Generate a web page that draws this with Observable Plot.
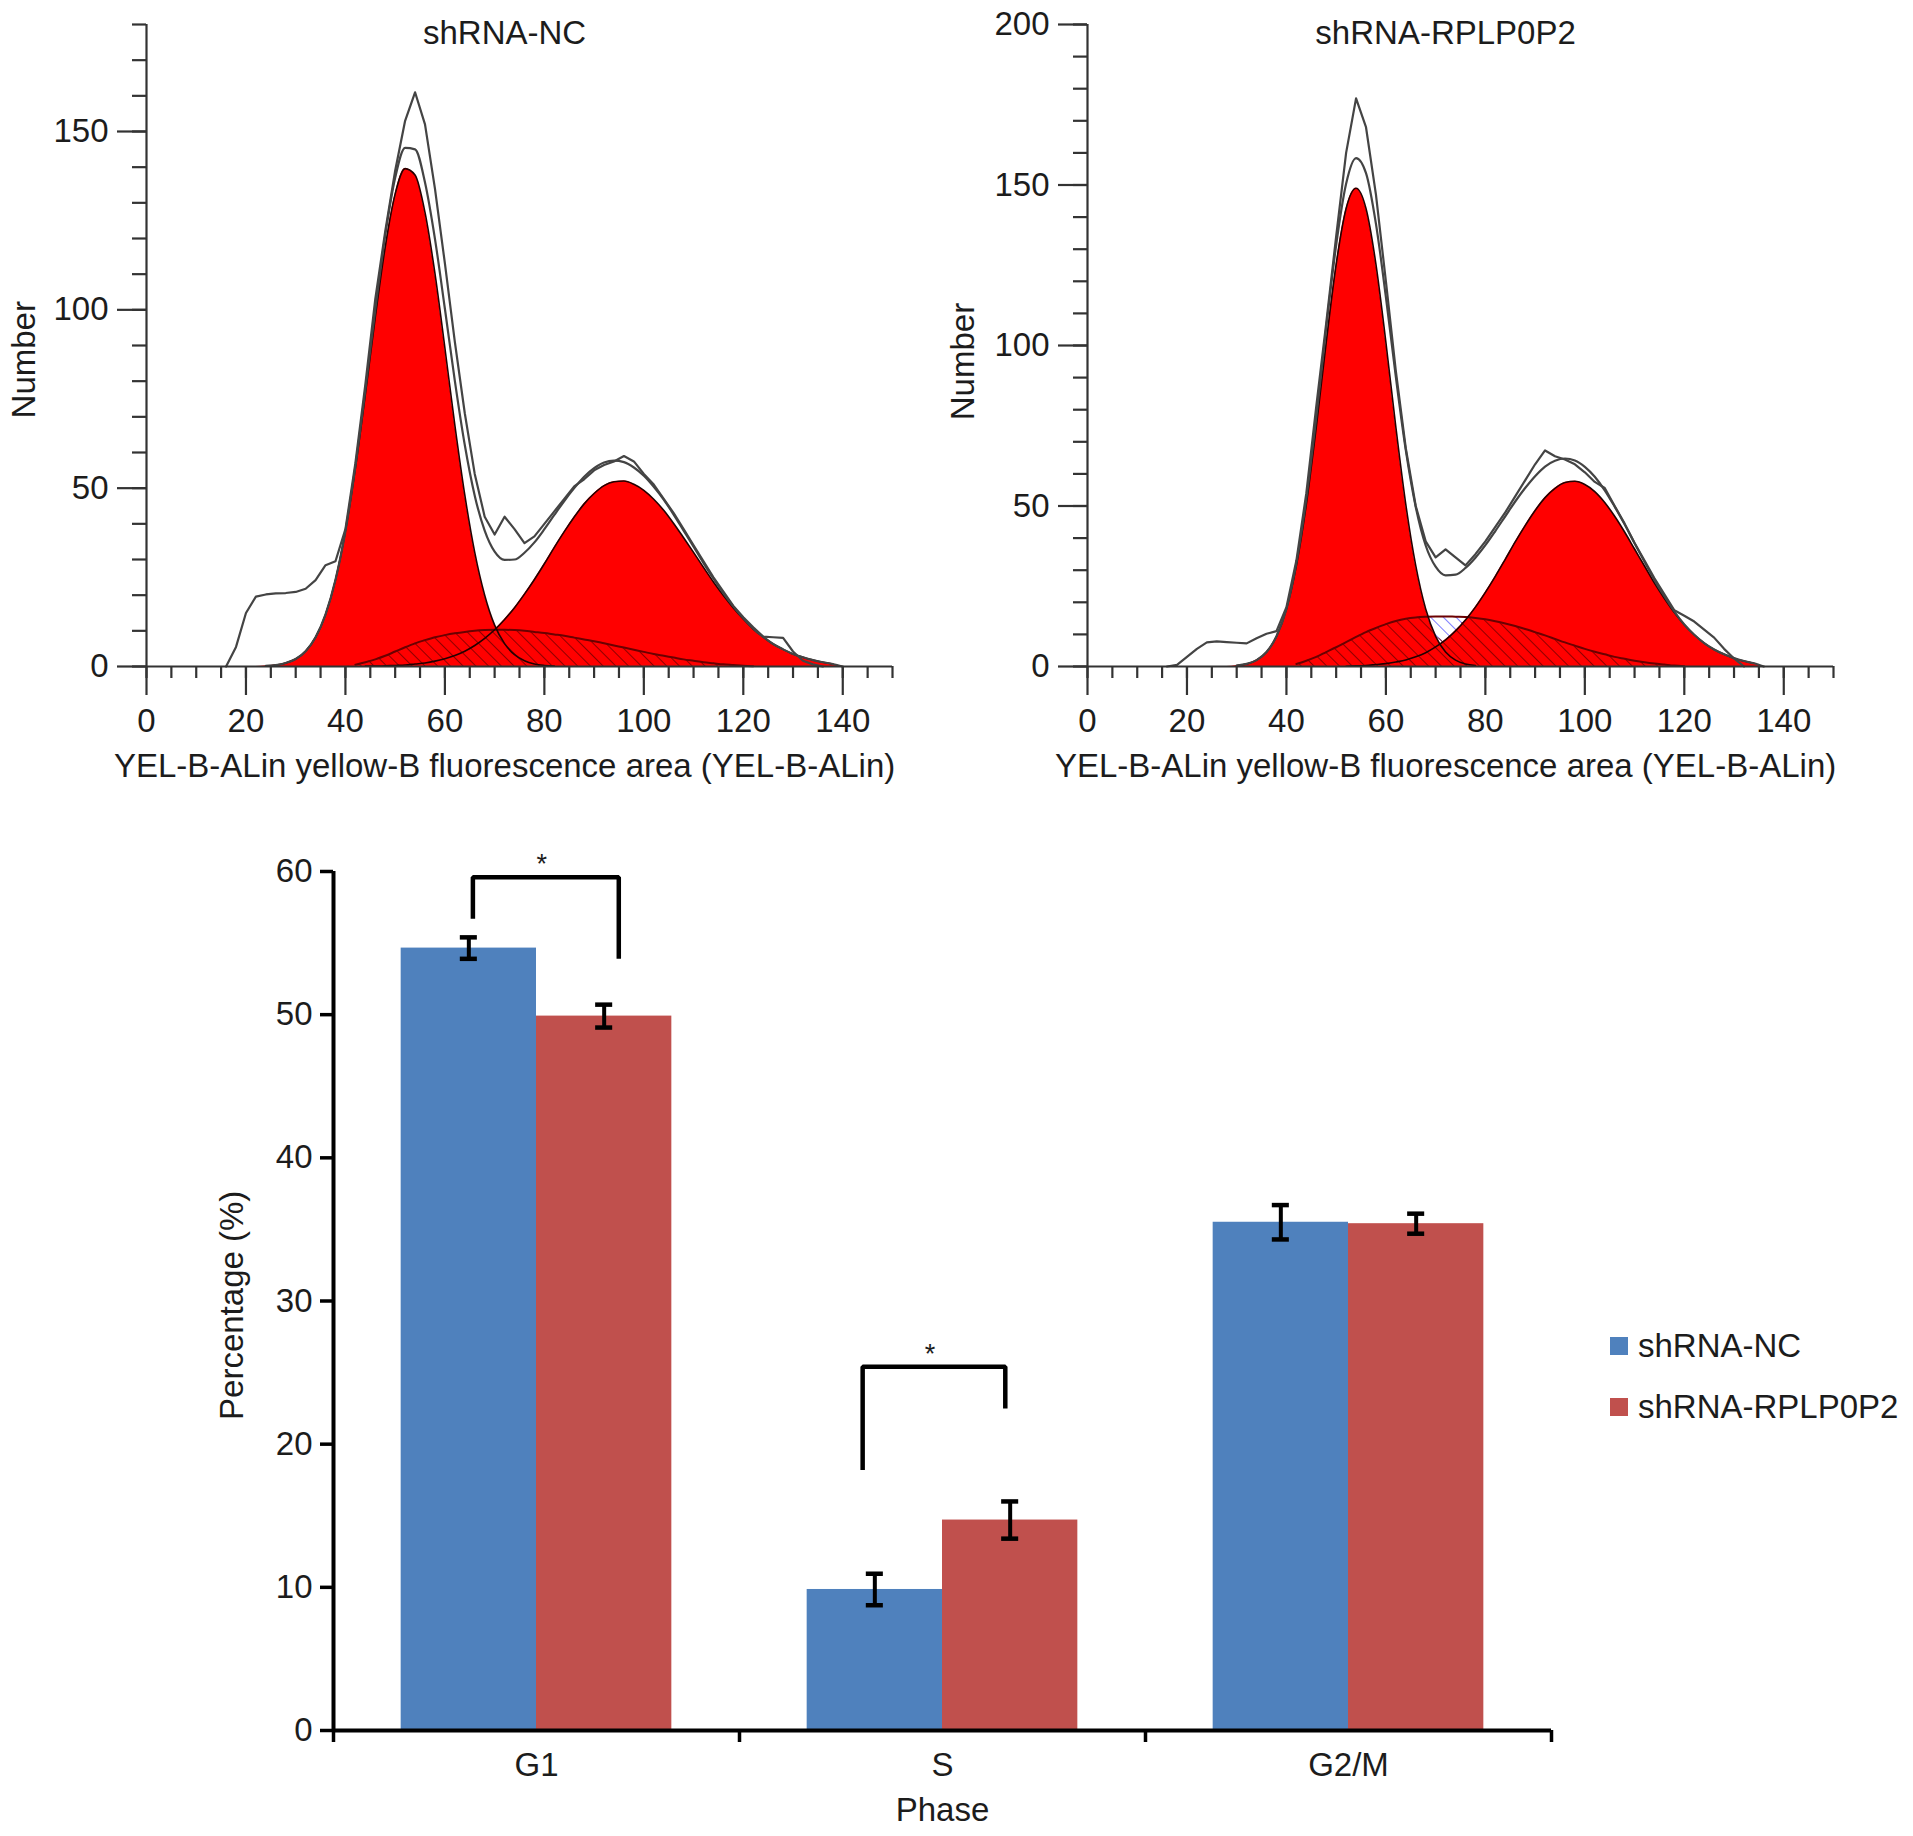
<!DOCTYPE html>
<html>
<head>
<meta charset="utf-8">
<script src="https://cdn.jsdelivr.net/npm/d3@7"></script>
<script src="https://cdn.jsdelivr.net/npm/@observablehq/plot@0.6"></script>
<style>
  body { margin: 0; background: #fff; }
  #fig { position: relative; width: 1913px; height: 1836px; background: #fff;
         font-family: "Liberation Sans", Arial, Helvetica, sans-serif; color: #1c1c1c; }
  #fig svg { position: absolute; overflow: visible; }
  .leyenda { position: absolute; left: 1610px; display: flex; align-items: center;
             height: 40px; font-size: 33px; white-space: nowrap; }
  .leyenda i { display: inline-block; width: 18px; height: 18px; margin-right: 10px; }
</style>
</head>
<body>
<div id="fig"></div>
<script>
const XS = [16, 18, 20, 22,
  24, 26, 28, 30, 32, 34, 36, 38,
  40, 42, 44, 46, 48, 50, 52, 54,
  56, 58, 60, 62, 64, 66, 68, 70,
  72, 74, 76, 78, 80, 82, 84, 86,
  88, 90, 92, 94, 96, 98, 100, 102,
  104, 106, 108, 110, 112, 114, 116, 118,
  120, 122, 124, 126, 128, 130, 132, 134,
  136, 138, 140];

// shRNA-NC
const NC_G1 = [0, 0, 0, 0,
  0.2, 0.4, 1.0, 2.1, 4.3, 8.2, 14.6, 24.3,
  38, 55.6, 76.2, 97.9, 117.6, 132.5, 139.6, 137.8,
  127.3, 110.2, 89.3, 67.7, 48.1, 32, 20, 11.6,
  6.4, 3.3, 1.6, 0.7, 0.3, 0.1, 0, 0,
  0, 0, 0, 0, 0, 0, 0, 0,
  0, 0, 0, 0, 0, 0, 0, 0,
  0, 0, 0, 0, 0, 0, 0, 0,
  0, 0, 0];
const NC_G2 = [0, 0, 0, 0,
  0, 0, 0, 0, 0, 0, 0, 0,
  0, 0, 0.1, 0.1, 0.2, 0.3, 0.4, 0.7,
  1.0, 1.5, 2.2, 3.1, 4.3, 5.9, 7.9, 10.3,
  13.2, 16.5, 20.3, 24.4, 28.8, 33.4, 37.8, 41.9,
  45.6, 48.5, 50.7, 51.8, 52, 51.1, 49.4, 46.9,
  43.8, 40.1, 36.1, 32, 27.8, 23.7, 19.9, 16.4,
  13.3, 10.5, 8.3, 6.3, 4.8, 3.5, 2.6, 1.8,
  1.2, 0.7, 0];
const NC_S = [0, 0, 0, 0,
  0, 0, 0, 0, 0, 0, 0, 0,
  0, 0.5, 1.2, 2, 3, 4.2, 5.4, 6.5,
  7.4, 8.2, 8.8, 9.3, 9.7, 10, 10.2, 10.3,
  10.3, 10.2, 10, 9.7, 9.4, 9, 8.6, 8.1,
  7.6, 7.1, 6.5, 5.9, 5.3, 4.7, 4.1, 3.5,
  3, 2.5, 2, 1.6, 1.2, 0.9, 0.6, 0.4,
  0.2, 0.1, 0, 0, 0, 0, 0, 0,
  0, 0, 0];
const NC_FIT = [null, null, null, null,
  0.2, 0.4, 1.0, 2.1, 4.3, 8.2, 14.6, 24.3,
  38, 56.1, 77.5, 100, 120.8, 137, 145.4, 145,
  135.7, 119.9, 100.3, 80.1, 62.1, 47.9, 38.1, 32.2,
  29.9, 30, 31.9, 34.8, 38.5, 42.5, 46.4, 50,
  53.2, 55.6, 57.2, 57.7, 57.3, 55.8, 53.5, 50.4,
  46.8, 42.6, 38.1, 33.6, 29, 24.6, 20.5, 16.8,
  13.5, 10.6, 8.3, 6.3, 4.8, 3.5, 2.6, 1.8,
  1.2, 0.7, 0];
const NC_RAW = [0, 5.5, 15, 19.6,
  20.2, 20.5, 20.6, 20.9, 21.8, 24.2, 28.4, 29.5,
  38.5, 57, 79, 103, 122, 139, 153, 161,
  152, 134, 113, 91, 71, 54, 42, 37,
  42, 38.5, 34.6, 36.5, 40, 43.5, 47, 50.5,
  52.5, 55, 56.5, 57.5, 59, 57.5, 54, 51,
  47, 43, 38.5, 34, 29.5, 25, 21, 17,
  13.8, 11, 8.4, 8.2, 8, 4.2, 1.6, 0.6,
  0, null, null];

// shRNA-RPLP0P2
const RP_G1 = [0, 0, 0, 0,
  0, 0, 0, 0.3, 0.8, 2, 4.5, 9.4,
  17.9, 31.4, 50.5, 74.6, 101, 125.3, 142.7, 149,
  142.7, 125.3, 101, 74.6, 50.5, 31.4, 17.9, 9.4,
  4.5, 2, 0.8, 0.3, 0, 0, 0, 0,
  0, 0, 0, 0, 0, 0, 0, 0,
  0, 0, 0, 0, 0, 0, 0, 0,
  0, 0, 0, 0, 0, 0, 0, 0,
  0, 0, 0];
const RP_G2 = [0, 0, 0, 0,
  0, 0, 0, 0, 0, 0, 0, 0,
  0, 0, 0, 0, 0, 0, 0.1, 0.2,
  0.3, 0.6, 0.9, 1.4, 2, 3, 4.3, 6.1,
  8.3, 11.1, 14.5, 18.5, 23.1, 28.1, 33.4, 38.8,
  43.9, 48.6, 52.6, 55.5, 57.3, 57.7, 56.7, 54.5,
  51.1, 46.8, 41.9, 36.6, 31.3, 26, 21.2, 16.8,
  13, 9.9, 7.3, 5.3, 3.8, 2.6, 1.7, 1,
  0, 0, 0];
const RP_S = [0, 0, 0, 0,
  0, 0, 0, 0, 0, 0, 0, 0,
  0, 0.8, 1.8, 3, 4.5, 6, 7.6, 9.2,
  10.7, 12, 13.2, 14.2, 14.9, 15.3, 15.5, 15.6,
  15.6, 15.5, 15.4, 15.1, 14.7, 14.1, 13.4, 12.6,
  11.7, 10.7, 9.7, 8.6, 7.5, 6.5, 5.5, 4.6,
  3.8, 3, 2.4, 1.8, 1.3, 0.9, 0.6, 0.3,
  0.1, 0, 0, 0, 0, 0, 0, 0,
  0, 0, 0];
const RP_FIT = [null, null, null, null,
  null, null, null, 0.3, 0.8, 2, 4.5, 9.4,
  17.9, 32.2, 52.3, 77.6, 105.5, 131.3, 150.4, 158.4,
  153.7, 137.9, 115.1, 90.2, 67.4, 49.7, 37.7, 31.1,
  28.4, 28.6, 30.7, 33.9, 37.8, 42.2, 46.8, 51.4,
  55.6, 59.3, 62.3, 64.1, 64.8, 64.2, 62.2, 59.1,
  54.9, 49.8, 44.3, 38.4, 32.6, 26.9, 21.8, 17.1,
  13.1, 9.9, 7.3, 5.3, 3.8, 2.6, 1.7, 1,
  0, null, null];
const RP_RAW = [0, 0.5, 3, 5.5,
  7.5, 7.8, 7.6, 7.4, 7.2, 8.8, 10.2, 11,
  18.5, 33, 54, 81, 107, 134, 160, 177,
  168, 147, 120, 92, 68, 50, 39, 34,
  36.5, 34, 31.5, 35, 39, 43.5, 48, 53,
  58, 63, 67.3, 65.5, 64.5, 63, 60.5, 57.5,
  55.6, 50, 44.5, 38.5, 33, 27.5, 22.5, 17.5,
  15.8, 14, 11.5, 9, 5.5, 2.5, 0, null,
  null, null, null];

const HIST_X_MAJOR = [0, 20, 40, 60, 80, 100, 120, 140];
const HIST_X_MINOR = d3.range(0, 151, 5);
const NC_Y_MAJOR = [0, 50, 100, 150];
const RP_Y_MAJOR = [0, 50, 100, 150, 200];
const X_LABEL = "YEL-B-ALin yellow-B fluorescence area (YEL-B-ALin)";

// Porcentaje por fase (media ± error)
const PHASES = ["G1", "S", "G2/M"];
const GROUPS = ["shRNA-NC", "shRNA-RPLP0P2"];
const NC_PCT = [54.65, 9.85, 35.5];
const NC_ERR = [0.75, 1.1, 1.2];
const RP_PCT = [49.9, 14.7, 35.4];
const RP_ERR = [0.8, 1.3, 0.7];
const BAR_Y_TICKS = [0, 10, 20, 30, 40, 50, 60];
const BAR_COLORS = ["#4f81bd", "#c0504d"];

// Corchetes de significacion: fase, altura pata izquierda, techo, pata derecha
const SIG_PHASE = ["G1", "S"];
const SIG_LEFT = [56.7, 18.2];
const SIG_TOP = [59.6, 25.4];
const SIG_RIGHT = [53.9, 22.5];
const SIG_SHIFT_L = [0.01, -0.03];
const SIG_SHIFT_R = [0.036, -0.012];

const FONT = "'Liberation Sans', Arial, Helvetica, sans-serif";
const INK = "#1c1c1c";
const curve = "monotone-x";

function rayado(defs, id, color, ancho) {
  const p = defs.append("pattern")
    .attr("id", id)
    .attr("patternUnits", "userSpaceOnUse")
    .attr("width", 9).attr("height", 9)
    .attr("patternTransform", "rotate(-45)");
  p.append("line")
    .attr("x1", 0).attr("y1", 0).attr("x2", 0).attr("y2", 9)
    .attr("stroke", color).attr("stroke-width", ancho);
}

function histPanel(o) {
  const rows = XS.map((x, i) => ({
    x, g1: o.g1[i], g2: o.g2[i], s: o.s[i], fit: o.fit[i], raw: o.raw[i],
  }));
  const pos = (v) => (v > 0 ? v : null);
  const eje = { stroke: "#333", strokeWidth: 2.2, label: null };
  const svg = Plot.plot({
    width: o.width,
    height: 800,
    marginLeft: o.marginLeft,
    marginRight: o.marginRight,
    marginTop: 24,
    marginBottom: 134,
    style: { background: "transparent", color: INK, fontFamily: FONT, fontSize: "33px", overflow: "visible" },
    x: { domain: [0, 150] },
    y: { domain: [0, o.yMax] },
    marks: [
      Plot.areaY(rows, { x: "x", y: "s", fill: `url(#${o.id}-azul)`, curve }),
      Plot.areaY(rows, { x: "x", y: "g1", fill: "#ff0000", curve }),
      Plot.areaY(rows, { x: "x", y: "g2", fill: "#ff0000", curve }),
      Plot.areaY(rows, { x: "x", y: (d) => Math.min(d.s, Math.max(d.g1, d.g2)), fill: `url(#${o.id}-rojo)`, curve }),
      Plot.lineY(rows, { x: "x", y: (d) => pos(d.s), stroke: "#6b0000", strokeWidth: 2, curve }),
      Plot.lineY(rows, { x: "x", y: (d) => pos(d.g1), stroke: "#240000", strokeWidth: 1.6, curve }),
      Plot.lineY(rows, { x: "x", y: (d) => pos(d.g2), stroke: "#240000", strokeWidth: 1.6, curve }),
      Plot.lineY(rows, { x: "x", y: "fit", stroke: "#444", strokeWidth: 2.2, curve }),
      Plot.lineY(rows, { x: "x", y: "raw", stroke: "#444", strokeWidth: 2.2 }),
      Plot.ruleX([0], { stroke: "#333", strokeWidth: 2.2 }),
      Plot.ruleY([0], { stroke: "#333", strokeWidth: 2.2 }),
      Plot.axisY(o.yMajor, { ...eje, tickSize: 29, tickPadding: 9 }),
      Plot.axisY(d3.range(0, o.yMax + 1, 10), { ...eje, tickSize: 14, tickFormat: () => "" }),
      Plot.axisX(HIST_X_MAJOR, { ...eje, tickSize: 29, tickPadding: 13 }),
      Plot.axisX(HIST_X_MINOR, { ...eje, tickSize: 12, tickFormat: () => "" }),
      Plot.text([o.title], { x: () => 72, frameAnchor: "top", lineAnchor: "middle", dy: 9 }),
      Plot.text([X_LABEL], { x: () => 72, frameAnchor: "bottom", lineAnchor: "middle", dy: 100 }),
      Plot.text(["Number"], { y: () => o.labelY, frameAnchor: "left", rotate: -90, textAnchor: "middle", lineAnchor: "middle", dx: o.labelDx }),
    ],
  });
  const defs = d3.select(svg).insert("defs", ":first-child");
  rayado(defs, `${o.id}-rojo`, "#7a0000", 1.7);
  rayado(defs, `${o.id}-azul`, "#4646ff", 1.4);
  return svg;
}

function barPanel() {
  const rows = PHASES.flatMap((phase, i) => GROUPS.map((group, g) => ({
    phase,
    group,
    centro: i + (g + 1) / 3,
    valor: g ? RP_PCT[i] : NC_PCT[i],
    err: g ? RP_ERR[i] : NC_ERR[i],
  })));
  const corchetes = SIG_PHASE.flatMap((phase, k) => {
    const i = PHASES.indexOf(phase);
    const xl = i + 1 / 3 + SIG_SHIFT_L[k];
    const xr = i + 2 / 3 + SIG_SHIFT_R[k];
    return [
      { k, x: xl, y: SIG_LEFT[k] },
      { k, x: xl, y: SIG_TOP[k] },
      { k, x: xr, y: SIG_TOP[k] },
      { k, x: xr, y: SIG_RIGHT[k] },
    ];
  });
  const estrellas = SIG_PHASE.map((phase, k) => ({
    x: PHASES.indexOf(phase) + 0.5 + (SIG_SHIFT_L[k] + SIG_SHIFT_R[k]) / 2 - 0.01,
    y: SIG_TOP[k],
  }));
  return Plot.plot({
    width: 1913,
    height: 1036,
    marginLeft: 333,
    marginRight: 362,
    marginTop: 71,
    marginBottom: 106,
    style: { background: "transparent", color: INK, fontFamily: FONT, fontSize: "33px", overflow: "visible" },
    x: { domain: [0, 3] },
    y: { domain: [0, 60] },
    color: { domain: GROUPS, range: BAR_COLORS },
    marks: [
      Plot.rect(rows, { x1: (d) => d.centro - 1 / 6, x2: (d) => d.centro + 1 / 6, y1: 0, y2: "valor", fill: "group" }),
      Plot.ruleX(rows, { x: "centro", y1: (d) => d.valor - d.err, y2: (d) => d.valor + d.err, stroke: "#000", strokeWidth: 4 }),
      Plot.ruleY(rows, { y: (d) => d.valor + d.err, x1: (d) => d.centro - 0.021, x2: (d) => d.centro + 0.021, stroke: "#000", strokeWidth: 4.5 }),
      Plot.ruleY(rows, { y: (d) => d.valor - d.err, x1: (d) => d.centro - 0.021, x2: (d) => d.centro + 0.021, stroke: "#000", strokeWidth: 4.5 }),
      Plot.line(corchetes, { x: "x", y: "y", z: "k", stroke: "#000", strokeWidth: 4.5, strokeLinejoin: "miter", strokeLinecap: "butt" }),
      Plot.text(estrellas, { x: "x", y: "y", text: () => "*", fontSize: 27, lineAnchor: "bottom", dy: -4 }),
      Plot.ruleX([0], { stroke: "#000", strokeWidth: 4 }),
      Plot.ruleY([0], { stroke: "#000", strokeWidth: 4 }),
      Plot.axisY(BAR_Y_TICKS, { tickSize: 13, tickPadding: 8, stroke: "#000", strokeWidth: 3.5, label: null }),
      Plot.axisX([0, 1, 2, 3], { tickSize: 12, tickFormat: () => "", stroke: "#000", strokeWidth: 3.5, label: null }),
      Plot.axisX(PHASES.map((p, i) => i + 0.5), { tickSize: 0, tickPadding: 22, tickFormat: (v) => PHASES[Math.floor(v)], label: null }),
      Plot.text(["Percentage (%)"], { y: () => 29.7, frameAnchor: "left", rotate: -90, textAnchor: "middle", lineAnchor: "middle", dx: -101 }),
      Plot.text(["Phase"], { x: () => 1.5, frameAnchor: "bottom", lineAnchor: "middle", dy: 80 }),
    ],
  });
}

const fig = document.getElementById("fig");

const izq = histPanel({
  id: "nc", title: "shRNA-NC", g1: NC_G1, g2: NC_G2, s: NC_S, fit: NC_FIT, raw: NC_RAW,
  yMax: 180, yMajor: NC_Y_MAJOR, width: 940, marginLeft: 146, marginRight: 48, labelY: 86, labelDx: -122,
});
izq.style.left = "0px"; izq.style.top = "0px";
fig.appendChild(izq);

const der = histPanel({
  id: "rp", title: "shRNA-RPLP0P2", g1: RP_G1, g2: RP_G2, s: RP_S, fit: RP_FIT, raw: RP_RAW,
  yMax: 200, yMajor: RP_Y_MAJOR, width: 973, marginLeft: 147, marginRight: 80, labelY: 95, labelDx: -124,
});
der.style.left = "940px"; der.style.top = "0px";
fig.appendChild(der);

const barras = barPanel();
barras.style.left = "0px"; barras.style.top = "800px";
fig.appendChild(barras);

GROUPS.forEach((g, i) => {
  const fila = document.createElement("div");
  fila.className = "leyenda";
  fila.style.top = `${1326 + i * 61}px`;
  fila.innerHTML = `<i style="background:${BAR_COLORS[i]}"></i>${g}`;
  fig.appendChild(fila);
});
</script>
</body>
</html>
